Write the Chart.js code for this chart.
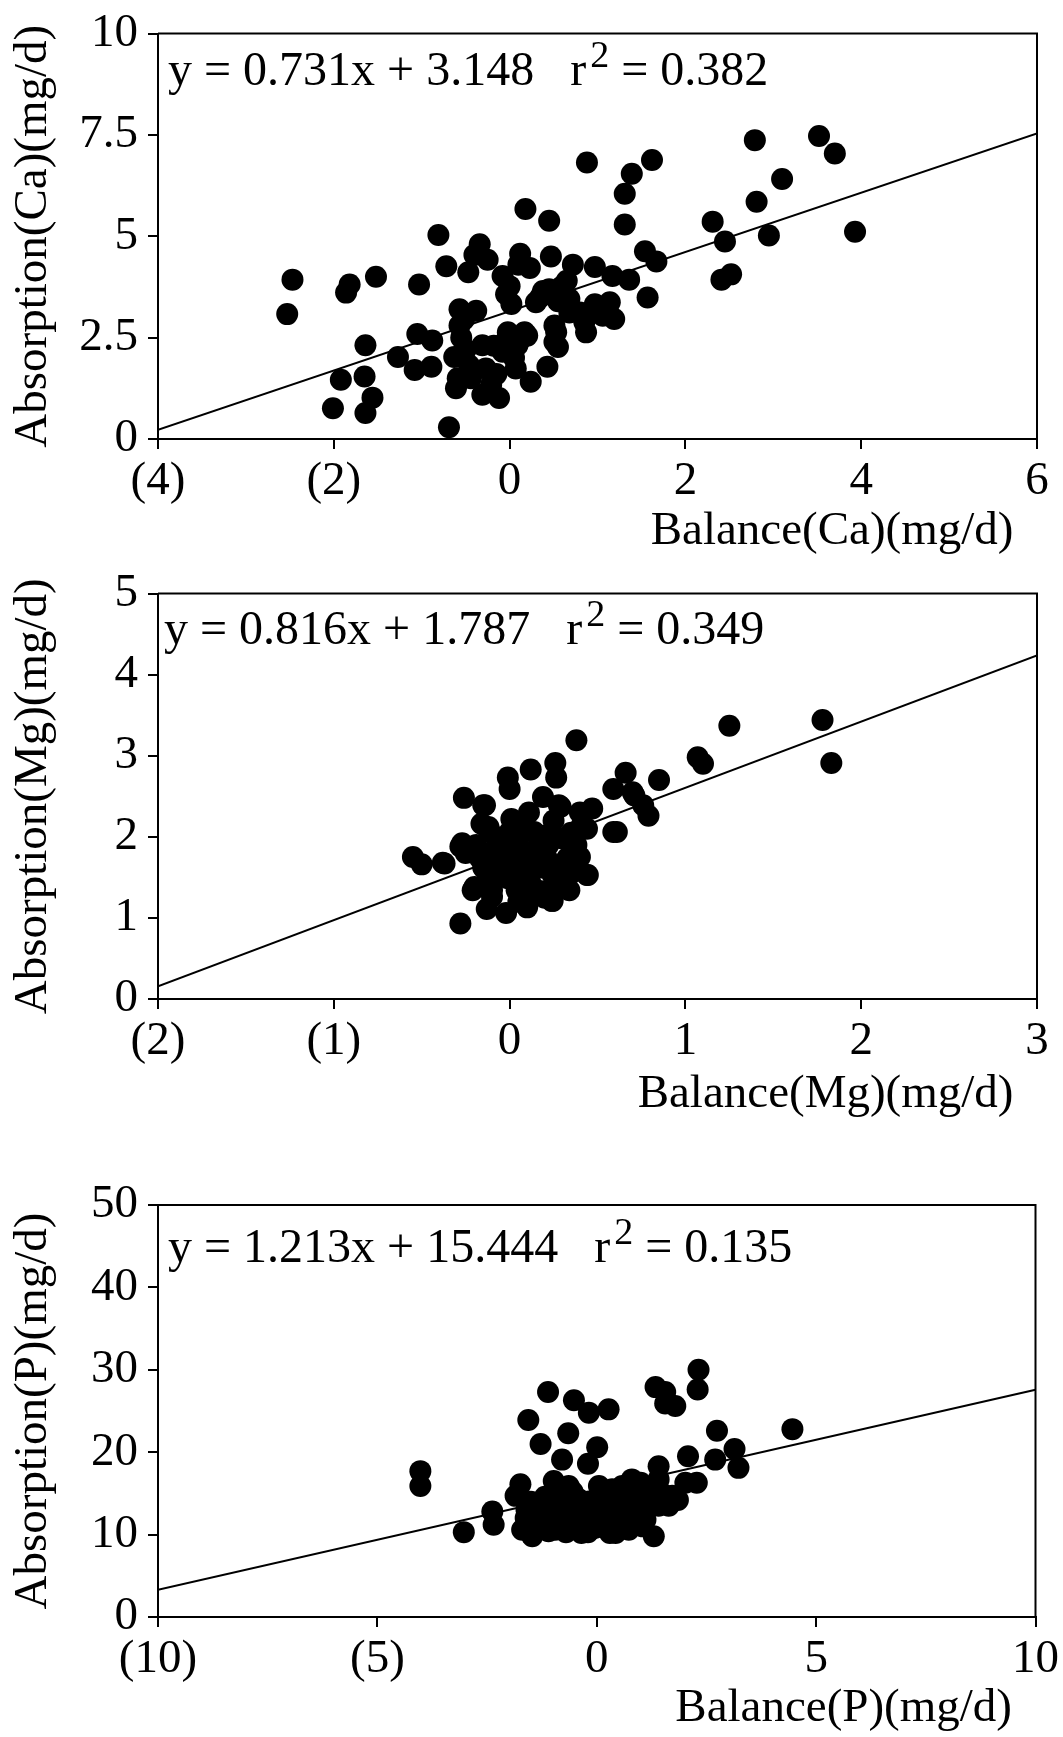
<!DOCTYPE html>
<html>
<head>
<meta charset="utf-8">
<script src="https://cdn.jsdelivr.net/npm/chart.js@4.4.1/dist/chart.umd.min.js"></script>
<style>
    body   { margin: 0; background: #fff; width: 1063px; height: 1737px; position: relative; overflow: hidden; }
    canvas { position: absolute; left: 0; }
</style>
</head>
<body>
<canvas id="chart-ca" width="1063" height="560" style="top:0px;width:1063px;height:560px"></canvas>
<canvas id="chart-mg" width="1063" height="563" style="top:560px;width:1063px;height:563px"></canvas>
<canvas id="chart-p"  width="1063" height="617" style="top:1120px;width:1063px;height:617px"></canvas>
<script>
/* balance vs absorption, Ca / Mg / P */

// Ca
const caX = [-2.53, -2.47, -2.01, -1.92, -1.86, -1.82, -1.65, -1.64, -1.64, -1.56, -1.52, -1.27, -1.08, -1.05, -1.03,
             -0.89, -0.88, -0.81, -0.72, -0.69, -0.63, -0.61, -0.59, -0.57, -0.57, -0.55, -0.50, -0.47, -0.46, -0.44,
             -0.40, -0.38, -0.34, -0.31, -0.31, -0.27, -0.25, -0.21, -0.18, -0.15, -0.12, -0.08, -0.08, -0.04, -0.02,
              0.00,  0.02,  0.05,  0.07,  0.09,  0.10,  0.12,  0.17,  0.18,  0.20,  0.23,  0.24,  0.30,  0.35,  0.43,
              0.45,  0.45,  0.47,  0.51,  0.51,  0.53,  0.55,  0.55,  0.60,  0.65,  0.68,  0.68,  0.72,  0.80,  0.85,
              0.87,  0.88,  0.97,  0.97,  1.00,  1.06,  1.14,  1.17,  1.19,  1.31,  1.31,  1.36,  1.39,  1.54,  1.57,
              1.62,  1.67,  2.31,  2.41,  2.45,  2.52,  2.79,  2.81,  2.95,  3.10,  3.52,  3.70,  3.93, -0.52, -0.05,
              0.12,  0.38];
const caY = [ 3.08,  3.93,  0.76,  1.46,  3.61,  3.81,  1.54,  2.31,  0.64,  1.02,  4.00,  2.02,  1.70,  2.59,  3.81,
              1.78,  2.43,  5.03,  4.26,  0.29,  2.02,  1.25,  1.50,  3.20,  2.80,  2.50,  2.20,  4.11,  1.82,  1.50,
              4.54,  3.16,  4.80,  2.31,  1.09,  1.74,  4.42,  1.33,  2.30,  1.60,  1.01,  4.02,  2.15,  3.57,  2.63,
              3.77,  3.33,  2.00,  1.74,  2.31,  4.30,  4.57,  2.63,  5.67,  2.55,  4.22,  1.41,  3.37,  3.50,  1.78,
              5.38,  3.69,  4.50,  2.80,  2.39,  2.63,  2.27,  3.40,  3.77,  3.90,  3.45,  3.12,  4.30,  3.12,  2.88,
              2.63,  6.82,  4.24,  3.32,  3.20,  3.04,  3.37,  4.02,  2.96,  6.05,  5.29,  3.93,  6.54,  4.63,  3.49,
              6.88,  4.38,  5.36,  3.93,  4.87,  4.06,  7.37,  5.85,  5.02,  6.41,  7.47,  7.04,  5.11,  2.95,  2.40,
              2.45,  3.65];
const caXTicks = [-4, -2, 0, 2, 4, 6];
const caYTicks = [0, 2.5, 5, 7.5, 10];
const caFit    = { slope: 0.731, intercept: 3.148, r2: 0.382 };

// Mg
const mgX = [-0.55, -0.50, -0.38, -0.37, -0.28, -0.28, -0.27, -0.26, -0.25, -0.21, -0.20, -0.19, -0.18, -0.17, -0.16,
             -0.15, -0.15, -0.14, -0.13, -0.125,-0.12, -0.12, -0.115,-0.10, -0.10, -0.09, -0.08, -0.05, -0.05, -0.02,
             -0.02, -0.02, -0.01, -0.01,  0.00,  0.00,  0.00,  0.01,  0.01,  0.04,  0.05,  0.05,  0.05,  0.07,  0.07,
              0.08,  0.09,  0.09,  0.09,  0.10,  0.11,  0.11,  0.12,  0.12,  0.14,  0.15,  0.15,  0.18,  0.18,  0.19,
              0.20,  0.21,  0.21,  0.22,  0.24,  0.245, 0.245, 0.25,  0.25,  0.26,  0.265, 0.265, 0.27,  0.28,  0.29,
              0.30,  0.30,  0.32,  0.33,  0.34,  0.35,  0.35,  0.37,  0.38,  0.38,  0.40,  0.40,  0.41,  0.44,  0.44,
              0.445, 0.47,  0.59,  0.59,  0.61,  0.66,  0.70,  0.71,  0.76,  0.79,  0.85,  1.07,  1.10,  1.25,  1.78,
              1.83];
const mgY = [ 1.75,  1.66,  1.68,  1.67,  0.93,  1.88,  1.92,  2.48,  1.80,  1.34,  1.38,  1.90,  1.78,  1.74,  2.16,
              2.39,  1.62,  2.39,  1.11,  2.10,  2.12,  1.49,  1.53,  1.26,  1.34,  1.82,  2.00,  1.95,  1.62,  1.98,
              1.74,  1.06,  2.73,  1.49,  2.59,  2.06,  1.53,  2.06,  2.22,  1.34,  1.70,  1.90,  1.20,  1.82,  1.57,
              2.20,  1.29,  2.10,  1.74,  1.13,  2.30,  1.53,  2.83,  1.42,  2.06,  1.85,  1.34,  1.33,  1.62,  2.49,
              1.25,  2.02,  1.74,  1.90,  1.21,  1.53,  1.21,  2.20,  1.65,  2.91,  2.73,  1.34,  1.49,  2.39,  2.37,
              1.98,  1.40,  1.70,  1.74,  1.34,  2.05,  1.55,  1.94,  3.19,  1.90,  2.30,  1.75,  2.14,  2.10,  1.53,
              1.53,  2.35,  2.06,  2.59,  2.06,  2.79,  2.55,  2.51,  2.39,  2.26,  2.70,  2.98,  2.90,  3.37,  3.44,
              2.91];
const mgXTicks = [-2, -1, 0, 1, 2, 3];
const mgYTicks = [0, 1, 2, 3, 4, 5];
const mgFit    = { slope: 0.816, intercept: 1.787, r2: 0.349 };

// P
const pX = [-4.02, -4.02, -3.03, -2.38, -2.35, -1.85, -1.74, -1.70, -1.62, -1.60, -1.56, -1.50, -1.47, -1.40, -1.30,
            -1.28, -1.25, -1.18, -1.11, -1.10, -1.02, -0.98, -0.94, -0.90, -0.85, -0.80, -0.79, -0.75, -0.70, -0.65,
            -0.64, -0.62, -0.60, -0.55, -0.52, -0.45, -0.41, -0.38, -0.35, -0.30, -0.26, -0.22, -0.20, -0.20, -0.18,
            -0.10, -0.05,  0.00,  0.01,  0.05,  0.08,  0.10,  0.15,  0.20,  0.20,  0.27,  0.27,  0.30,  0.35,  0.40,
             0.43,  0.45,  0.50,  0.55,  0.58,  0.58,  0.65,  0.73,  0.75,  0.80,  0.85,  0.92,  0.96,  1.00,  1.05,
             1.11,  1.11,  1.20,  1.25,  1.30,  1.34,  1.41,  1.41,  1.41,  1.48,  1.56,  1.56,  1.64,  1.72,  1.79,
             1.85,  2.02,  2.08,  2.28,  2.30,  2.32,  2.70,  2.74,  3.14,  3.23,  4.46];
const pY = [17.7, 15.9, 10.3, 12.8, 11.2, 14.7, 16.1, 10.6, 12.0, 13.0, 23.9, 14.0,  9.8, 11.5, 13.5,
            21.0, 12.2, 14.6, 27.3, 10.4, 13.5, 16.5, 10.6, 12.8, 14.8, 11.6, 19.1, 12.0, 10.3, 22.3,
            15.9, 13.4, 11.0, 15.2, 26.3, 13.0, 14.3, 11.4, 10.2, 12.5, 11.8, 14.0, 18.6, 10.3, 24.8,
            13.5, 10.8, 11.2, 20.6, 15.9, 14.6, 12.5, 10.9, 14.3, 12.6, 25.2, 11.8, 10.2, 15.5, 13.6,
            10.2, 14.2, 13.0, 11.4, 15.9, 13.5, 12.2, 10.6, 14.8, 16.7, 12.0, 14.0, 13.0, 16.3, 11.0,
            15.5, 11.8, 13.6, 14.5,  9.8, 27.9, 18.3, 16.7, 13.5, 15.0, 27.3, 25.9, 13.5, 14.7, 25.6,
            14.2, 16.3, 19.5, 16.3, 27.6, 30.0, 19.1, 22.6, 20.4, 18.1, 22.8];
const pXTicks = [-10, -5, 0, 5, 10];
const pYTicks = [0, 10, 20, 30, 40, 50];
const pFit    = { slope: 1.213, intercept: 15.444, r2: 0.135 };

const SERIF = "'Liberation Serif', 'Times New Roman', serif";

function fmtTick(v) {
    return v < 0 ? '(' + Math.abs(v) + ')' : String(v);
}

// box round the plot area (top + right edges)
const framePlugin = {
    id: 'frame',
    afterDraw(chart) {
        const { ctx, chartArea: a } = chart;
        ctx.save();
        ctx.strokeStyle = '#000';
        ctx.lineWidth   = 2;
        ctx.beginPath();
        ctx.moveTo(a.left, a.top);
        ctx.lineTo(a.right, a.top);
        ctx.lineTo(a.right, a.bottom);
        ctx.stroke();
        ctx.restore();
    }
};

// regression equation in the top left corner
const equationPlugin = {
    id: 'equation',
    afterDraw(chart, args, opts) {
        const { ctx, chartArea: a } = chart;
        const fit = opts.fit;
        const x0  = a.left + opts.dx;
        const y0  = a.top + opts.dy;
        const t1  = 'y = ' + fit.slope.toFixed(3) + 'x + ' + fit.intercept.toFixed(3) + '   r';
        const t2  = ' = ' + fit.r2.toFixed(3);
        ctx.save();
        ctx.fillStyle    = '#000';
        ctx.textBaseline = 'alphabetic';
        ctx.font = '48px ' + SERIF;
        ctx.fillText(t1, x0, y0);
        let x = x0 + ctx.measureText(t1).width + 4;
        ctx.font = '38px ' + SERIF;
        ctx.fillText('2', x, y0 - 18);
        x += ctx.measureText('2').width;
        ctx.font = '48px ' + SERIF;
        ctx.fillText(t2, x, y0);
        ctx.restore();
    }
};

function makeChart(id, cfg) {
    const points = cfg.xs.map((x, i) => ({ x: x, y: cfg.ys[i] }));
    const xMin = cfg.xTicks[0];
    const xMax = cfg.xTicks[cfg.xTicks.length - 1];
    const line = [
        { x: xMin, y: cfg.fit.slope * xMin + cfg.fit.intercept },
        { x: xMax, y: cfg.fit.slope * xMax + cfg.fit.intercept },
    ];

    new Chart(document.getElementById(id), {
        type: 'scatter',
        data: {
            datasets: [{
                data: points,
                pointRadius: 11,
                backgroundColor: '#000',
                borderColor: '#000',
                borderWidth: 0,
            }, {
                type: 'line',
                data: line,
                borderColor: '#000',
                borderWidth: 2,
                pointRadius: 0,
                fill: false,
            }]
        },
        options: {
            responsive: false,
            animation: false,
            layout: { padding: { top: cfg.padTop, right: 26, left: 0, bottom: 0 } },
            plugins: {
                legend: { display: false },
                tooltip: { enabled: false },
                equation: { fit: cfg.fit, dx: cfg.eqX, dy: cfg.eqY },
            },
            scales: {
                x: {
                    type: 'linear',
                    min: xMin,
                    max: xMax,
                    afterBuildTicks: s => { s.ticks = cfg.xTicks.map(v => ({ value: v })); },
                    afterFit: s => { s.height = cfg.xHeight; },
                    ticks: { callback: fmtTick, color: '#000', font: { family: SERIF, size: 47 }, padding: 4, maxRotation: 0, autoSkip: false },
                    grid: { drawOnChartArea: false, drawTicks: true, tickLength: 10, color: '#000', lineWidth: 2 },
                    border: { color: '#000', width: 2 },
                    title: { display: true, text: cfg.xTitle + '  ', align: 'end', color: '#000',
                             font: { family: SERIF, size: 47 }, padding: { top: 0, bottom: 0 } },
                },
                y: {
                    type: 'linear',
                    min: cfg.yTicks[0],
                    max: cfg.yTicks[cfg.yTicks.length - 1],
                    afterBuildTicks: s => { s.ticks = cfg.yTicks.map(v => ({ value: v })); },
                    afterFit: s => { s.width = 158; },
                    ticks: { callback: fmtTick, color: '#000', font: { family: SERIF, size: 47, lineHeight: 1 }, padding: 10, autoSkip: false },
                    grid: { drawOnChartArea: false, drawTicks: true, tickLength: 10, color: '#000', lineWidth: 2 },
                    border: { color: '#000', width: 2 },
                    title: { display: true, text: cfg.yTitle, color: '#000',
                             font: { family: SERIF, size: 47 }, padding: { top: 5, bottom: 0 } },
                },
            }
        },
        plugins: [framePlugin, equationPlugin],
    });
}

makeChart('chart-ca', {
    xs: caX, ys: caY, xTicks: caXTicks, yTicks: caYTicks, fit: caFit,
    xTitle: 'Balance(Ca)(mg/d)', yTitle: 'Absorption(Ca)(mg/d)',
    padTop: 29, xHeight: 121, eqX: 10, eqY: 51,
});
makeChart('chart-mg', {
    xs: mgX, ys: mgY, xTicks: mgXTicks, yTicks: mgYTicks, fit: mgFit,
    xTitle: 'Balance(Mg)(mg/d)', yTitle: 'Absorption(Mg)(mg/d)',
    padTop: 29, xHeight: 124, eqX: 6, eqY: 50,
});
makeChart('chart-p', {
    xs: pX, ys: pY, xTicks: pXTicks, yTicks: pYTicks, fit: pFit,
    xTitle: 'Balance(P)(mg/d)', yTitle: 'Absorption(P)(mg/d)',
    padTop: 85, xHeight: 120, eqX: 10, eqY: 57,
});
</script>
</body>
</html>
